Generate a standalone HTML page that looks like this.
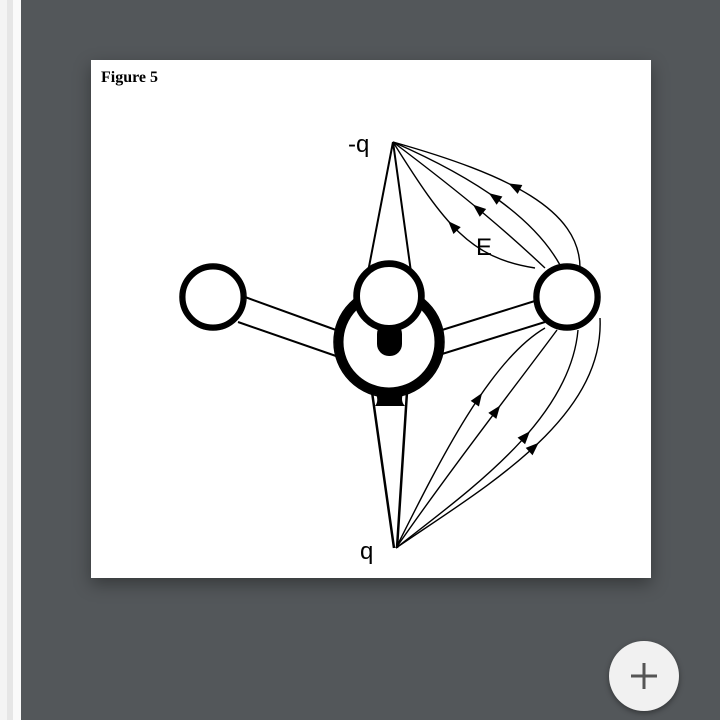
<!DOCTYPE html>
<html><head><style>
html,body{margin:0;padding:0;width:720px;height:720px;overflow:hidden;background:#53575a;font-family:"Liberation Sans",sans-serif}
.s1{position:absolute;left:0;top:0;width:7px;height:720px;background:#f4f4f4}
.s2{position:absolute;left:7px;top:0;width:6px;height:720px;background:#e6e6e6}
.s3{position:absolute;left:13px;top:0;width:8px;height:720px;background:#fafafa}
.fig{position:absolute;left:91px;top:60px;width:560px;height:518px;background:#fff;box-shadow:0 6px 16px rgba(0,0,0,0.35)}
.btn{position:absolute;left:609px;top:641px;width:70px;height:70px;border-radius:50%;background:#f1f1f1;box-shadow:0 2px 6px rgba(0,0,0,0.4)}
</style></head><body>
<div class="s1"></div><div class="s2"></div><div class="s3"></div>
<div class="fig"></div>
<svg id="sv" width="720" height="720" style="position:absolute;left:0;top:0">
<text x="101" y="82" font-family="Liberation Serif" font-weight="bold" font-size="16">Figure 5</text>
<g stroke="#000" fill="none" stroke-width="1.4">
<path d="M393,142 L368,272 M393,142 L411,272" stroke-width="2"/>
<path d="M372,392 L394,548 M407,392 L397,548" stroke-width="2.5"/>
<path d="M245,297 L336,330 M238,322 L336,356" stroke-width="2"/>
<path d="M442,330 L538,300 M442,354 L545,322" stroke-width="2"/>
<path class="fl" data-a="448,231" d="M535,268 C470,258 445,225 393,142"/>
<path class="fl" data-a="476,212" d="M545,268 C510,235 470,200 393,142"/>
<path class="fl" data-a="494,198" d="M560,265 C535,220 480,180 393,142"/>
<path class="fl" data-a="514,188" d="M580,268 C580,210 510,175 393,142"/>
<path class="fl" data-a="477,398" d="M396,548 C440,460 490,360 545,328"/>
<path class="fl" data-a="497,412" d="M396,548 C450,470 520,380 557,330"/>
<path class="fl" data-a="520,432" d="M396,548 C470,490 570,420 578,330"/>
<path class="fl" data-a="533,447" d="M396,548 C480,490 605,420 600,318"/>
</g>
<g id="arrows" fill="#000"></g>
<circle cx="389" cy="342" r="50" fill="#fff" stroke="#000" stroke-width="9"/>
<circle cx="389" cy="342" r="55" fill="none" stroke="#000" stroke-width="1.5"/>
<path d="M374,390 Q380,400 375,406 L405,406 Q399,400 405,390 Z" fill="#000"/>
<rect x="377" y="322" width="25" height="34" rx="12" fill="#000"/>
<g fill="#fff" stroke="#000">
<circle cx="389" cy="296" r="32" stroke-width="6"/>
<circle cx="389" cy="296" r="35" fill="none" stroke-width="1.5"/>
<circle cx="213" cy="297" r="30" stroke-width="5"/>
<circle cx="213" cy="297" r="33" fill="none" stroke-width="1.5"/>
<circle cx="567" cy="297" r="30" stroke-width="5"/>
<circle cx="567" cy="297" r="33" fill="none" stroke-width="1.5"/>
</g>
<text x="348" y="152" font-size="24">-q</text>
<text x="360" y="559" font-size="24">q</text>
<text x="476" y="255" font-size="24">E</text>
</svg>
<div class="btn"></div>
<svg width="720" height="720" style="position:absolute;left:0;top:0"><path d="M644,663 V689 M631,676 H657" stroke="#555" stroke-width="3"/></svg>
<script>
var g=document.getElementById('arrows'),out='';
document.querySelectorAll('.fl').forEach(function(p){
 var a=p.getAttribute('data-a').split(',').map(Number),L=p.getTotalLength(),best=0,bd=1e9;
 for(var s=0;s<=L;s+=0.5){var q=p.getPointAtLength(s),d=(q.x-a[0])*(q.x-a[0])+(q.y-a[1])*(q.y-a[1]);if(d<bd){bd=d;best=s;}}
 var c=p.getPointAtLength(best),n=p.getPointAtLength(Math.min(L,best+1)),dx=n.x-c.x,dy=n.y-c.y,m=Math.hypot(dx,dy)||1;dx/=m;dy/=m;
 var px=-dy,py=dx,tx=c.x+dx*7,ty=c.y+dy*7,bx=c.x-dx*6,by=c.y-dy*6;
 out+='<polygon points="'+tx+','+ty+' '+(bx+px*5)+','+(by+py*5)+' '+(bx-px*5)+','+(by-py*5)+'"/>';
});
g.innerHTML=out;
</script>
</body></html>
